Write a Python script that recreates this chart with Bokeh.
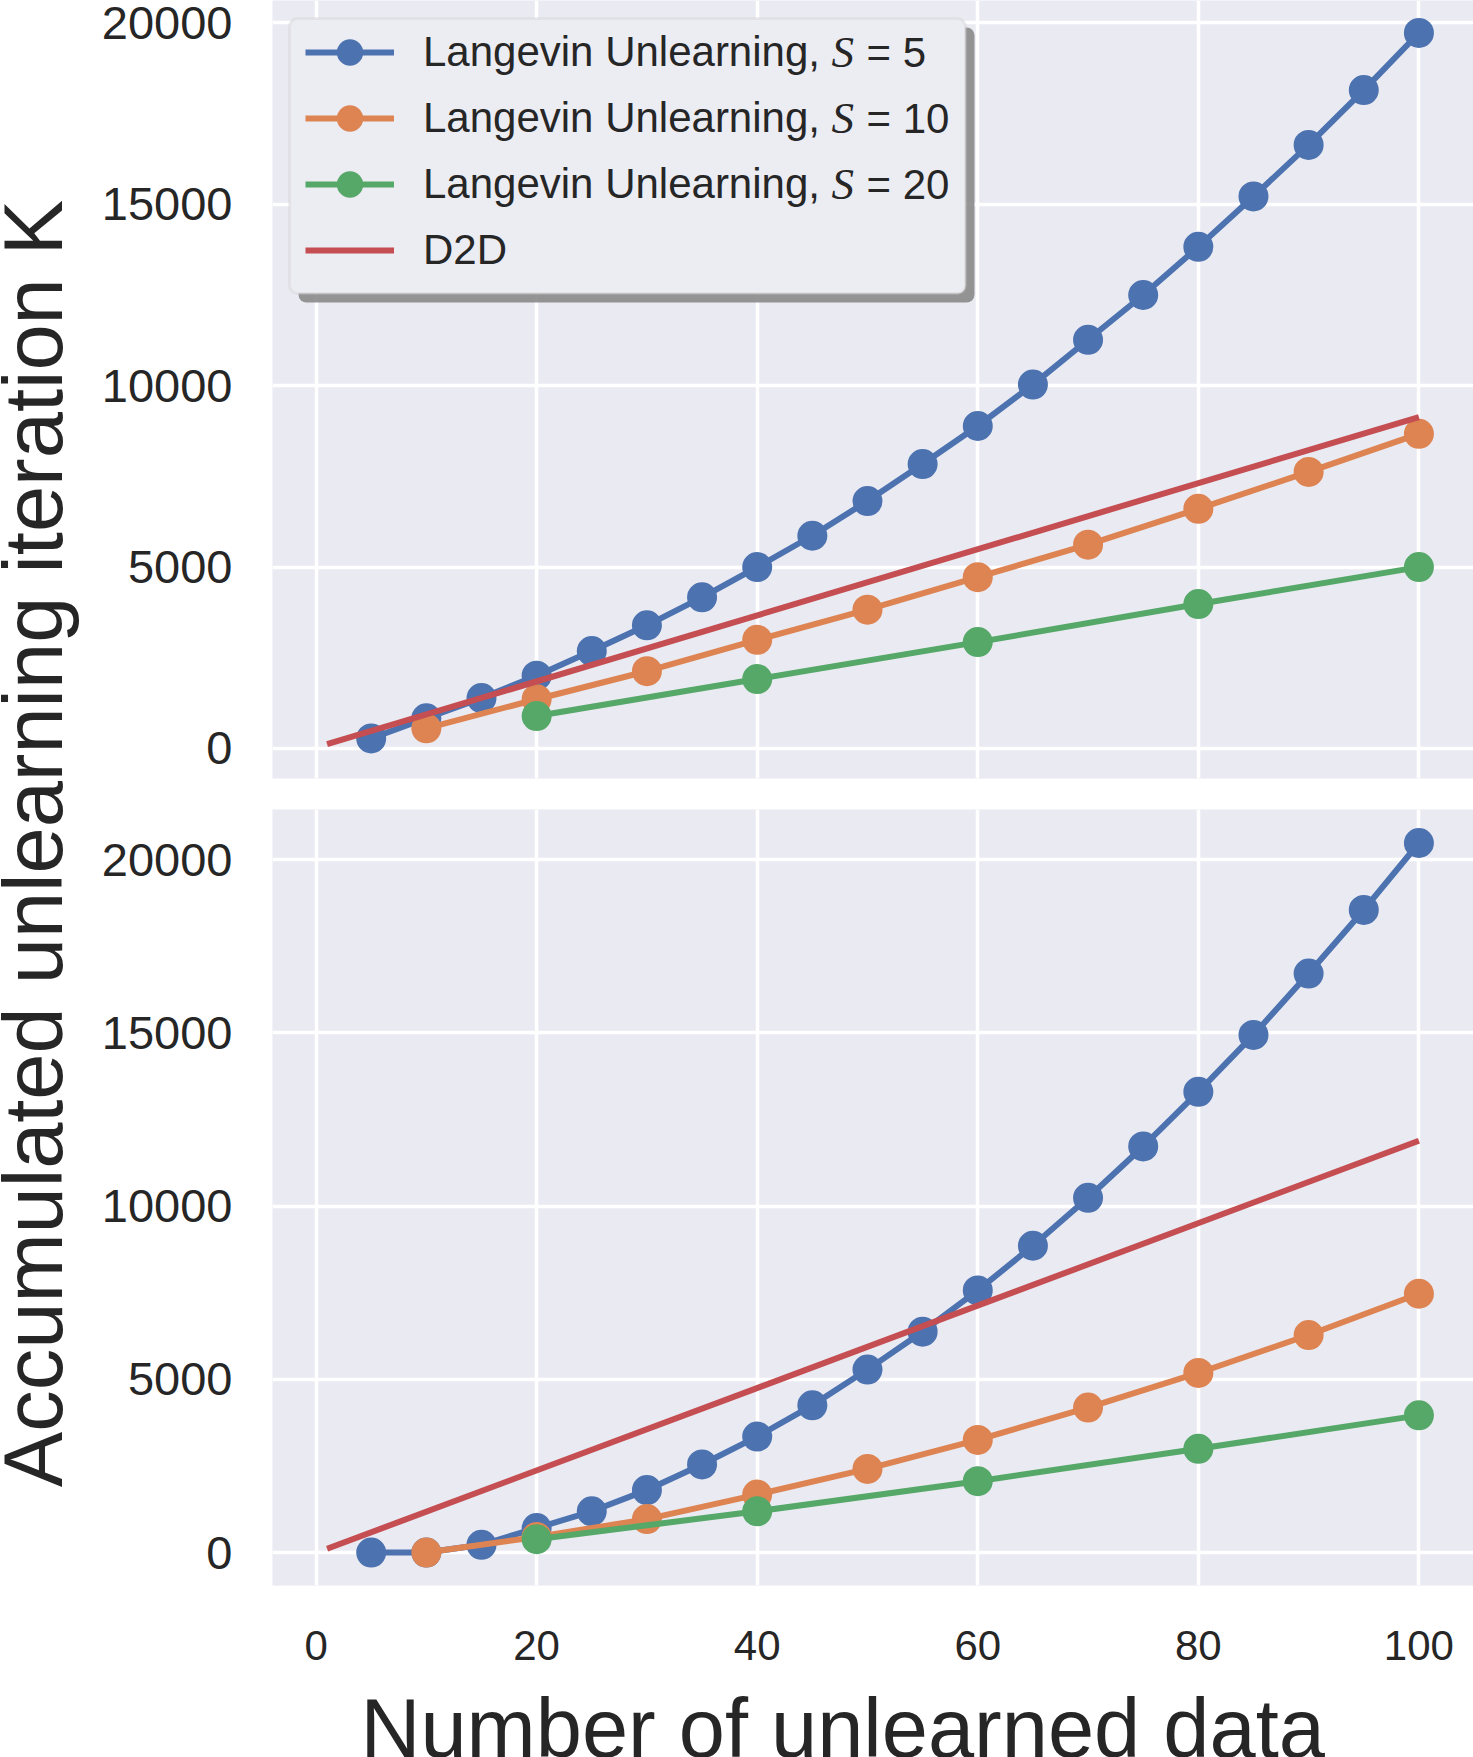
from math import pi

from bokeh.embed import file_html
from bokeh.layouts import column, row
from bokeh.models import (BoxAnnotation, FixedTicker, Label, Legend,
                          LegendItem, Range1d)
from bokeh.plotting import figure
from bokeh.resources import INLINE

# ---------------------------------------------------------------- data
x_s5 = [5, 10, 15, 20, 25, 30, 35, 40, 45, 50, 55, 60, 65, 70, 75, 80, 85, 90, 95, 100]
x_s10 = [10, 20, 30, 40, 50, 60, 70, 80, 90, 100]
x_s20 = [20, 40, 60, 80, 100]
x_d2d = [1, 100]

# upper panel
top_s5 = [278, 833, 1389, 2006, 2685, 3395, 4167, 5000, 5864, 6821,
          7840, 8889, 10031, 11265, 12500, 13827, 15216, 16636, 18148, 19722]
top_s10 = [556, 1358, 2130, 2994, 3827, 4722, 5617, 6605, 7623, 8673]
top_s20 = [895, 1914, 2932, 3981, 5000]
top_d2d = [118, 9136]

# lower panel
bot_s5 = [0, 0, 225, 709, 1192, 1804, 2544, 3349, 4251, 5282,
          6377, 7568, 8857, 10242, 11723, 13301, 14944, 16715, 18551, 20483]
bot_s10 = [0, 451, 966, 1675, 2415, 3253, 4187, 5185, 6280, 7472]
bot_s20 = [386, 1192, 2061, 2995, 3961]
bot_d2d = [110, 11890]

x_ticks = [0, 20, 40, 60, 80, 100]
y_ticks = [0, 5000, 10000, 15000, 20000]

legend_names = ["Langevin Unlearning,", "Langevin Unlearning,",
                "Langevin Unlearning,", "D2D"]
legend_s_values = ["5", "10", "20"]

x_label = "Number of unlearned data"
y_label = "Accumulated unlearning iteration K"

# ---------------------------------------------------------------- style
BLUE, ORANGE, GREEN, RED = "#4C72B0", "#DD8452", "#55A868", "#C44E52"
PANEL_BG = "#EAEAF2"
TEXT = "#262626"
FONT = "Liberation Sans"
LW = 6
MS = 30

X_RANGE = (-3.95, 104.95)
TOP_Y = (-827, 20617)
BOT_Y = (-950, 21450)

PAGE_W = 1473
STRIP_W = 90
FIG_W = PAGE_W - STRIP_W
FRAME_W = 1201
FRAME_LEFT = PAGE_W - FRAME_W          # page x where the panels start
TOP_FRAME_H = 778
BOT_FRAME_H = 776


def panel(height, border_bottom, y_range, show_x):
    p = figure(width=FIG_W, height=height,
               x_range=Range1d(*X_RANGE), y_range=Range1d(*y_range),
               output_backend="svg", toolbar_location=None,
               min_border_left=FIG_W - FRAME_W, min_border_right=0,
               min_border_top=0, min_border_bottom=border_bottom)
    p.background_fill_color = PANEL_BG
    p.border_fill_color = "white"
    p.outline_line_color = None
    p.xaxis.ticker = FixedTicker(ticks=x_ticks)
    p.yaxis.ticker = FixedTicker(ticks=y_ticks)
    p.grid.grid_line_color = "white"
    p.grid.grid_line_width = 3.5
    for ax in p.axis:
        ax.axis_line_color = None
        ax.major_tick_line_color = None
        ax.minor_tick_line_color = None
        ax.major_label_text_font = FONT
        ax.major_label_text_color = TEXT
    p.yaxis.major_label_text_font_size = "47px"
    p.xaxis.major_label_text_font_size = "42px"
    p.yaxis.major_label_standoff = 34
    p.xaxis.major_label_standoff = 39
    p.xaxis.visible = show_x
    return p


def draw_series(p, ys5, ys10, ys20, yd2d):
    out = []
    for xs, ys, c in ((x_s5, ys5, BLUE), (x_s10, ys10, ORANGE), (x_s20, ys20, GREEN)):
        ln = p.line(xs, ys, line_color=c, line_width=LW)
        sc = p.scatter(xs, ys, size=MS, fill_color=c, line_color=c, line_width=0)
        out.append([ln, sc])
    out.append([p.line(x_d2d, yd2d, line_color=RED, line_width=LW)])
    return out


top = panel(TOP_FRAME_H + 31, 31, TOP_Y, False)
bottom = panel(BOT_FRAME_H + 87, 87, BOT_Y, True)

top_r = draw_series(top, top_s5, top_s10, top_s20, top_d2d)
draw_series(bottom, bot_s5, bot_s10, bot_s20, bot_d2d)


# ------------------------------------------------ legend (upper panel)
def dx(px):
    return X_RANGE[0] + px / FRAME_W * (X_RANGE[1] - X_RANGE[0])


def dy(py):
    return TOP_Y[1] - py / TOP_FRAME_H * (TOP_Y[1] - TOP_Y[0])


box_l, box_r, box_t, box_b = 17, 693, 18, 293
shadow = BoxAnnotation(left=dx(box_l + 9), right=dx(box_r + 9),
                       top=dy(box_t + 9), bottom=dy(box_b + 9),
                       fill_color="#8a8a8a", fill_alpha=0.9,
                       line_color=None, border_radius=8)
frame = BoxAnnotation(left=dx(box_l), right=dx(box_r),
                      top=dy(box_t), bottom=dy(box_b),
                      fill_color="#ECECF3", fill_alpha=1.0,
                      line_color="#CBCBCB", line_width=3, border_radius=8)
top.add_layout(shadow)
top.add_layout(frame)

ROW_H = 66
LEG_TOP = 18.5
items = [LegendItem(label=name, renderers=rs) for name, rs in zip(legend_names, top_r)]
legend = Legend(items=items,
                location=(33, TOP_FRAME_H - LEG_TOP - 4 * ROW_H),
                glyph_width=89, glyph_height=ROW_H, spacing=0, padding=0,
                margin=0, label_standoff=29,
                label_text_font=FONT, label_text_font_size="42px",
                label_text_color=TEXT,
                background_fill_alpha=0, border_line_alpha=0)
top.add_layout(legend)

row_centres = [LEG_TOP + ROW_H * (i + 0.5) for i in range(3)]
for yc, sval in zip(row_centres, legend_s_values):
    top.add_layout(Label(x=dx(559), y=dy(yc), text="S",
                         text_font="Liberation Serif", text_font_style="italic",
                         text_font_size="45px", text_color=TEXT,
                         text_baseline="middle", text_align="left"))
    top.add_layout(Label(x=dx(594), y=dy(yc), text="= " + sval,
                         text_font=FONT, text_font_size="42px", text_color=TEXT,
                         text_baseline="middle", text_align="left"))


# ------------------------------------------------ shared axis titles
def strip(width, height, x_span):
    s = figure(width=width, height=height, x_range=Range1d(*x_span),
               y_range=Range1d(0, height), output_backend="svg",
               toolbar_location=None, min_border=0,
               x_axis_type=None, y_axis_type=None)
    s.grid.visible = False
    s.outline_line_color = None
    s.background_fill_color = "white"
    s.border_fill_color = "white"
    return s


total_h = 1757
ylab = strip(STRIP_W, total_h, (0, STRIP_W))
ylab.add_layout(Label(x=33, y=total_h - 843, text=y_label, angle=pi / 2,
                      text_font=FONT, text_font_size="83px", text_color=TEXT,
                      text_align="center", text_baseline="middle"))

# the column lines this strip's frame up with the panels' frames,
# so its x range is expressed in page pixels over that frame
xlab_h = total_h - (TOP_FRAME_H + 31) - (BOT_FRAME_H + 87)
xlab = strip(FIG_W, xlab_h, (FRAME_LEFT, PAGE_W))
xlab.add_layout(Label(x=360, y=29, text=x_label,
                      text_font=FONT, text_font_size="83px", text_color=TEXT,
                      text_align="left", text_baseline="middle"))

layout = row(ylab, column(top, bottom, xlab, spacing=0), spacing=0)

open("out.html", "w").write(file_html(layout, INLINE))
